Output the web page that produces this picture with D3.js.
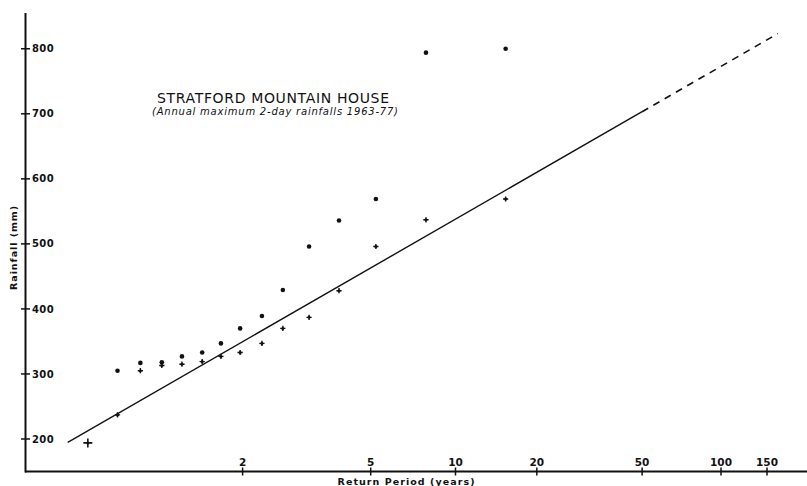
<!DOCTYPE html>
<html>
<head>
<meta charset="utf-8">
<script src="https://cdn.jsdelivr.net/npm/d3@7"></script>
<style>
  html, body { margin: 0; padding: 0; background: #fff; }
  svg { display: block; }
  text { font-family: "DejaVu Sans", sans-serif; fill: #111; }
</style>
</head>
<body>
<svg id="chart" width="807" height="486"></svg>
<script>
// Return periods (years) of the plotted ranks, Gumbel probability paper
const returnPeriodsLower = [1.07, 1.14, 1.22, 1.32, 1.44, 1.59, 1.76, 1.97, 2.26, 2.60, 3.13, 3.91, 5.21, 7.82, 15.3];
const rainfallLower      = [194, 237, 305, 313, 315, 319, 327, 333, 347, 370, 387, 428, 496, 537, 569];

const returnPeriodsUpper = [1.14, 1.22, 1.32, 1.44, 1.59, 1.76, 1.97, 2.26, 2.60, 3.13, 3.91, 5.21, 7.82, 15.3];
const rainfallUpper      = [305, 317, 318, 327, 333, 347, 370, 389, 429, 496, 536, 569, 794, 800];

// Fitted Gumbel line: rainfall = location + scale * reduced variate
const fitLocation = 313;
const fitScale = 100;
const fitSolidT = [1.04, 50];
const fitDashedT = [50, 165];

// Axis ticks
const xTickPeriods = [2, 5, 10, 20, 50, 100, 150];
const yTickValues = [200, 300, 400, 500, 600, 700, 800];

const titleText = "STRATFORD MOUNTAIN HOUSE";
const subtitleText = "(Annual maximum 2-day rainfalls 1963-77)";
const xTitle = "Return Period (years)";
const yTitle = "Rainfall (mm)";

// Gumbel reduced variate of a return period
const reduced = T => -Math.log(-Math.log(1 - 1 / T));

const svg = d3.select("#chart");

const x = d3.scaleLinear().domain([-1.5504, 5.3611]).range([26, 807]);
const y = d3.scaleLinear().domain([150, 855]).range([471.5, 13]);

const ink = "#111";

// Y axis: line with crossing ticks, labels to the right
svg.append("line")
  .attr("x1", 25.5).attr("x2", 25.5)
  .attr("y1", y(855)).attr("y2", y(150) + 1)
  .attr("stroke", ink).attr("stroke-width", 2);

const yTicks = svg.append("g");
yTicks.selectAll("line").data(yTickValues).join("line")
  .attr("x1", 21).attr("x2", 30)
  .attr("y1", d => y(d)).attr("y2", d => y(d))
  .attr("stroke", ink).attr("stroke-width", 1.5);
yTicks.selectAll("text").data(yTickValues).join("text")
  .attr("x", 32).attr("y", d => y(d))
  .attr("dy", "0.36em")
  .attr("font-size", 10).attr("font-weight", "bold")
  .attr("letter-spacing", 0.4)
  .text(d => d);

// X axis: line with crossing ticks, labels above
svg.append("line")
  .attr("x1", 25).attr("x2", 807)
  .attr("y1", y(150)).attr("y2", y(150))
  .attr("stroke", ink).attr("stroke-width", 2);

const xTicks = svg.append("g");
xTicks.selectAll("line").data(xTickPeriods).join("line")
  .attr("x1", d => x(reduced(d))).attr("x2", d => x(reduced(d)))
  .attr("y1", y(150) - 4).attr("y2", y(150) + 4)
  .attr("stroke", ink).attr("stroke-width", 1.5);
xTicks.selectAll("text").data(xTickPeriods).join("text")
  .attr("x", d => x(reduced(d))).attr("y", 466)
  .attr("text-anchor", "middle")
  .attr("font-size", 10.5).attr("font-weight", "bold")
  .text(d => d);

// Axis titles
svg.append("text")
  .attr("x", 406).attr("y", 484.5)
  .attr("text-anchor", "middle")
  .attr("font-size", 9.5).attr("font-weight", "bold")
  .attr("textLength", 137).attr("lengthAdjust", "spacing")
  .text(xTitle);

svg.append("text")
  .attr("transform", "translate(17,248) rotate(-90)")
  .attr("text-anchor", "middle")
  .attr("font-size", 9.5).attr("font-weight", "bold")
  .attr("textLength", 84).attr("lengthAdjust", "spacing")
  .text(yTitle);

// Title block
svg.append("text")
  .attr("x", 273).attr("y", 103)
  .attr("text-anchor", "middle")
  .attr("font-size", 14)
  .attr("textLength", 232).attr("lengthAdjust", "spacing")
  .text(titleText);

svg.append("text")
  .attr("x", 275).attr("y", 115)
  .attr("text-anchor", "middle")
  .attr("font-size", 10).attr("font-style", "italic")
  .attr("textLength", 246).attr("lengthAdjust", "spacing")
  .text(subtitleText);

// Fitted line: solid over the fitted range, dashed as extrapolation
const fitLine = d3.line()
  .x(T => x(reduced(T)))
  .y(T => y(fitLocation + fitScale * reduced(T)));

svg.append("path")
  .attr("d", fitLine(fitSolidT))
  .attr("fill", "none").attr("stroke", ink).attr("stroke-width", 1.4);

svg.append("path")
  .attr("d", fitLine(fitDashedT))
  .attr("fill", "none").attr("stroke", ink).attr("stroke-width", 1.6)
  .attr("stroke-dasharray", "7,6");

// Upper series: filled dots
const upper = returnPeriodsUpper.map((T, i) => ({ T, v: rainfallUpper[i] }));
svg.append("g").selectAll("circle").data(upper).join("circle")
  .attr("cx", d => x(reduced(d.T)))
  .attr("cy", d => y(d.v))
  .attr("r", 2.3)
  .attr("fill", ink);

// Lower series: small plus marks
const lower = returnPeriodsLower.map((T, i) => ({ T, v: rainfallLower[i], big: i === 0 }));
const plus = svg.append("g").selectAll("g").data(lower).join("g")
  .attr("transform", d => `translate(${x(reduced(d.T))},${y(d.v)})`);
plus.append("path")
  .attr("d", d => {
    const a = d.big ? 4.5 : 2.6;
    return `M${-a},0H${a}M0,${-a}V${a}`;
  })
  .attr("stroke", ink).attr("stroke-width", d => d.big ? 1.6 : 1.4);
plus.append("circle").attr("r", 1.5).attr("fill", ink);
</script>
</body>
</html>
